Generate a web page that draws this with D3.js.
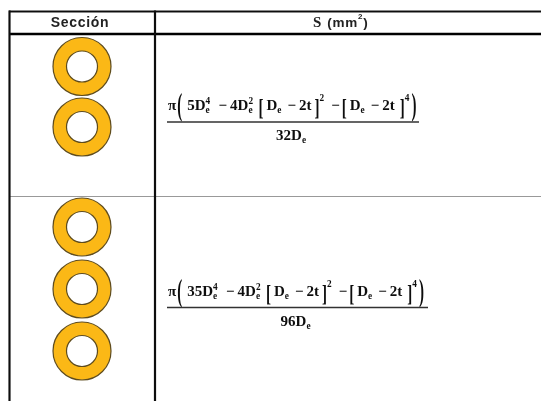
<!DOCTYPE html>
<html>
<head>
<meta charset="utf-8">
<script src="https://cdn.jsdelivr.net/npm/d3@7"></script>
<style>
html, body { margin: 0; padding: 0; background: #fff; }
svg { display: block; }
</style>
</head>
<body>
<div id="chart"></div>
<script>
const headers = ['Sección', 'S (mm'];
const ringCounts = [2, 3];
const ringCenters = [[66.5, 127], [227, 289, 351]];
const denominators = ['32D', '96D'];
const leadCoefs = ['5D', '35D'];

const width = 541, height = 401;
const serif = '"Liberation Serif", serif';
const sans = '"Liberation Sans", sans-serif';

const svg = d3.select('#chart').append('svg')
    .attr('width', width)
    .attr('height', height);

svg.append('defs').append('filter')
    .attr('id', 'soft')
    .append('feGaussianBlur')
    .attr('stdDeviation', 0.6);

const root = svg.append('g').attr('filter', 'url(#soft)');

// Table lines
const x = d3.scaleLinear().domain([0, 1]).range([9, 541]);
const colX = 155;
const hLine = (y, color, w) => root.append('line')
    .attr('x1', x(0)).attr('x2', x(1))
    .attr('y1', y).attr('y2', y)
    .attr('stroke', color).attr('stroke-width', w);
const vLine = (xp, y1, y2, w) => root.append('line')
    .attr('x1', xp).attr('x2', xp)
    .attr('y1', y1).attr('y2', y2)
    .attr('stroke', '#111').attr('stroke-width', w);

hLine(11.5, '#111', 2.2);
hLine(34, '#000', 2.4);
hLine(196.5, '#999', 1);
vLine(9.5, 10.5, height, 2.2);
vLine(colX, 10.5, height, 2.2);

// Header
root.append('text')
    .attr('x', 80).attr('y', 27)
    .attr('text-anchor', 'middle')
    .attr('font-family', sans).attr('font-weight', 700).attr('font-size', 14)
    .attr('letter-spacing', 0.7)
    .attr('fill', '#222')
    .text(headers[0]);

const headerText = root.append('text')
    .attr('x', 313).attr('y', 27)
    .attr('font-family', sans).attr('font-weight', 700).attr('font-size', 13.5)
    .attr('letter-spacing', 0.8)
    .attr('fill', '#222');
headerText.append('tspan').attr('font-family', serif).attr('font-size', 15).text('S');
headerText.append('tspan').attr('dx', 5).text('(mm');
headerText.append('tspan').attr('font-size', 8).attr('dy', -8).text('2');
headerText.append('tspan').attr('dy', 8).text(')');

// Rings
const rOuter = 29, rInner = 15.5;
ringCounts.forEach((n, i) => {
    d3.range(n).forEach(j => {
        const g = root.append('g').attr('transform', `translate(82,${ringCenters[i][j]})`);
        g.append('circle').attr('r', rOuter)
            .attr('fill', '#fbb817').attr('stroke', '#5e4c1e').attr('stroke-width', 1.2);
        g.append('circle').attr('r', rInner)
            .attr('fill', '#fff').attr('stroke', '#5e4c1e').attr('stroke-width', 1.2);
    });
});

// Formula: pieces are placed one after another
function drawFormula(startX, baseY, lineEnd, coef, denom, fontSize) {
    const g = root.append('g')
        .attr('font-family', serif).attr('font-weight', 700)
        .attr('fill', '#111');
    let cx = startX;
    const small = fontSize * 0.62;

    const put = (str, size, y, italic) => g.append('text')
        .attr('x', cx).attr('y', y)
        .attr('font-size', size)
        .attr('font-style', italic ? 'italic' : 'normal')
        .text(str);
    const word = str => {
        const t = put(str, fontSize, baseY);
        cx += t.node().getComputedTextLength();
    };
    const sub = () => {
        const t = put('e', small, baseY + 3);
        cx += t.node().getComputedTextLength();
    };
    const stack = supText => {
        put(supText, small, baseY - 6);
        put('e', small, baseY + 3);
        cx += 6;
    };
    const tall = (str, yScale, size) => {
        const t = g.append('text')
            .attr('transform', `translate(${cx},${baseY + 5}) scale(1,${yScale})`)
            .attr('font-size', size)
            .text(str);
        cx += t.node().getComputedTextLength();
    };
    const sup = str => {
        const t = put(str, small, baseY - 9);
        cx += t.node().getComputedTextLength();
    };

    word('π');
    cx += 1;
    tall('(', 2.1, 15);
    cx += 5;
    word(coef);
    stack('4');
    cx += 7;
    word('−');
    cx += 3;
    word('4D');
    stack('2');
    cx += 4;
    tall('[', 1.6, 15);
    cx += 3;
    word('D');
    sub();
    cx += 6;
    word('−');
    cx += 3;
    word('2t');
    cx += 3;
    tall(']', 1.6, 15);
    sup('2');
    cx += 7;
    word('−');
    cx += 2;
    tall('[', 1.6, 15);
    cx += 3;
    word('D');
    sub();
    cx += 6;
    word('−');
    cx += 3;
    word('2t');
    cx += 5;
    tall(']', 1.6, 15);
    sup('4');
    cx += 2;
    tall(')', 2.1, 15);

    g.append('line')
        .attr('x1', startX - 1).attr('x2', lineEnd)
        .attr('y1', baseY + 12).attr('y2', baseY + 12)
        .attr('stroke', '#333').attr('stroke-width', 1.4);

    const mid = (startX - 1 + lineEnd) / 2;
    const den = g.append('text')
        .attr('x', mid - 4).attr('y', baseY + 30)
        .attr('text-anchor', 'middle')
        .attr('font-size', fontSize)
        .text(denom);
    const w = den.node().getComputedTextLength();
    g.append('text')
        .attr('x', mid - 4 + w / 2).attr('y', baseY + 33)
        .attr('font-size', small)
        .text('e');
}

drawFormula(168, 110, 419, leadCoefs[0], denominators[0], 15);
drawFormula(168, 295.5, 428, leadCoefs[1], denominators[1], 15);
</script>
</body>
</html>
